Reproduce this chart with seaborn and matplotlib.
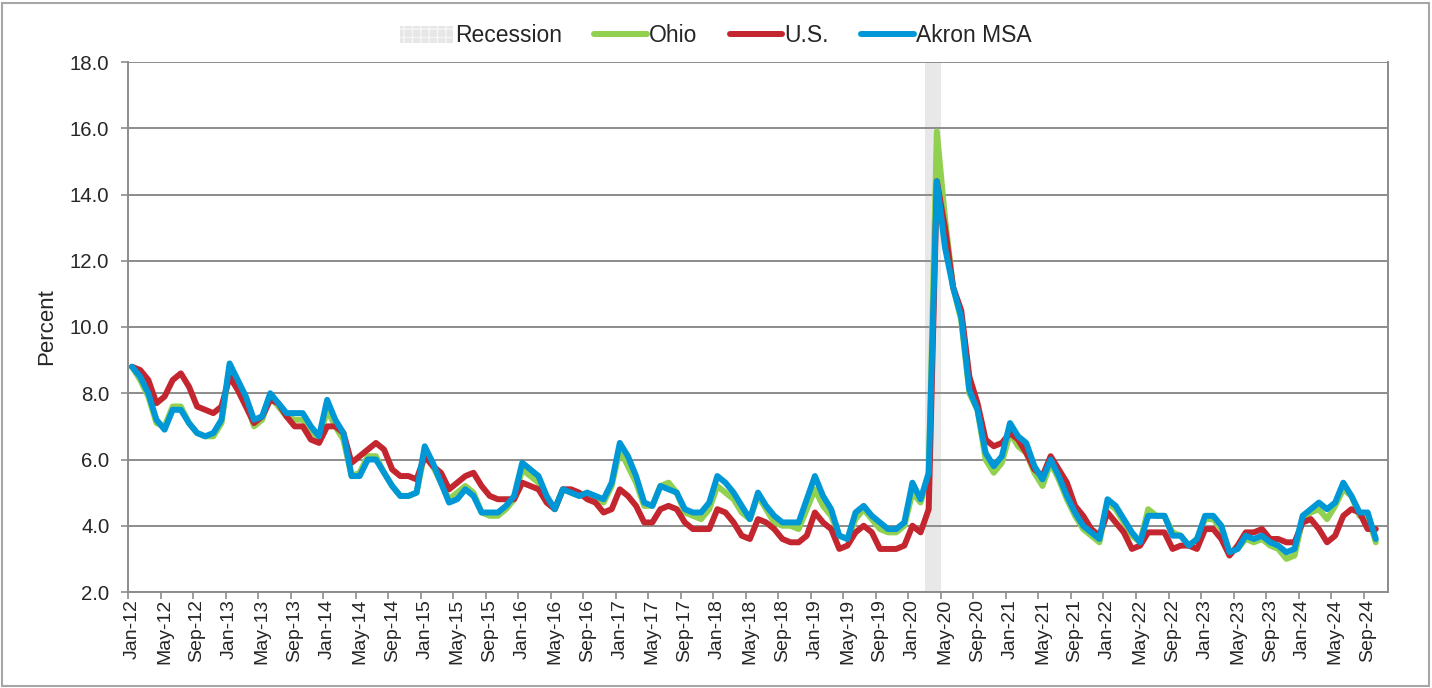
import numpy as np
import pandas as pd
import matplotlib
matplotlib.use("Agg")
import matplotlib.pyplot as plt
from matplotlib.patches import Patch, Rectangle
from matplotlib.lines import Line2D
from matplotlib.ticker import FixedLocator, FormatStrFormatter
import seaborn as sns

# ---- categories (monthly axis, Jan-12 .. Nov-24) ----
months = pd.date_range("2012-01-01", "2024-11-01", freq="MS")
month_labels = [d.strftime("%b-%y") for d in months]

# ---- series (percent, Jan-12 .. Oct-24) ----
ohio = [
    8.8, 8.4, 7.9, 7.1, 7.0, 7.6, 7.6, 7.1, 6.8, 6.7, 6.7, 7.1,
    8.8, 8.3, 7.8, 7.0, 7.2, 7.9, 7.6, 7.3, 7.2, 7.2, 6.9, 6.6,
    7.5, 7.0, 6.6, 5.5, 5.6, 6.1, 6.1, 5.6, 5.2, 4.9, 4.9, 5.0,
    6.2, 5.8, 5.3, 4.8, 5.0, 5.2, 5.0, 4.4, 4.3, 4.3, 4.5, 4.8,
    5.7, 5.5, 5.3, 4.8, 4.5, 5.1, 5.0, 4.9, 5.0, 4.8, 4.7, 5.2,
    6.3, 5.8, 5.3, 4.6, 4.6, 5.2, 5.3, 5.0, 4.4, 4.3, 4.2, 4.5,
    5.2, 5.0, 4.8, 4.4, 4.2, 4.9, 4.5, 4.1, 4.0, 4.0, 3.9, 4.5,
    5.1, 4.6, 4.3, 3.7, 3.6, 4.2, 4.5, 4.2, 3.9, 3.8, 3.8, 4.0,
    5.0, 4.7, 5.5, 15.9, 13.3, 11.2, 10.2, 8.0, 7.5, 6.0, 5.6, 5.9,
    6.8, 6.4, 6.2, 5.6, 5.2, 5.9, 5.4, 4.8, 4.3, 3.9, 3.7, 3.5,
    4.7, 4.5, 4.1, 3.7, 3.5, 4.5, 4.3, 4.3, 3.8, 3.7, 3.4, 3.6,
    4.2, 4.2, 3.9, 3.2, 3.3, 3.6, 3.5, 3.6, 3.4, 3.3, 3.0, 3.1,
    4.2, 4.4, 4.5, 4.2, 4.6, 5.1, 4.9, 4.3, 4.3, 3.5,
]
us = [
    8.8, 8.7, 8.4, 7.7, 7.9, 8.4, 8.6, 8.2, 7.6, 7.5, 7.4, 7.6,
    8.5, 8.1, 7.6, 7.1, 7.3, 7.8, 7.7, 7.3, 7.0, 7.0, 6.6, 6.5,
    7.0, 7.0, 6.8, 5.9, 6.1, 6.3, 6.5, 6.3, 5.7, 5.5, 5.5, 5.4,
    6.1, 5.8, 5.6, 5.1, 5.3, 5.5, 5.6, 5.2, 4.9, 4.8, 4.8, 4.8,
    5.3, 5.2, 5.1, 4.7, 4.5, 5.1, 5.1, 5.0, 4.8, 4.7, 4.4, 4.5,
    5.1, 4.9, 4.6, 4.1, 4.1, 4.5, 4.6, 4.5, 4.1, 3.9, 3.9, 3.9,
    4.5, 4.4, 4.1, 3.7, 3.6, 4.2, 4.1, 3.9, 3.6, 3.5, 3.5, 3.7,
    4.4, 4.1, 3.9, 3.3, 3.4, 3.8, 4.0, 3.8, 3.3, 3.3, 3.3, 3.4,
    4.0, 3.8, 4.5, 14.4, 13.0, 11.2, 10.5, 8.5, 7.7, 6.6, 6.4, 6.5,
    6.8, 6.6, 6.2, 5.7, 5.5, 6.1, 5.7, 5.3, 4.6, 4.3, 3.9, 3.7,
    4.4, 4.1, 3.8, 3.3, 3.4, 3.8, 3.8, 3.8, 3.3, 3.4, 3.4, 3.3,
    3.9, 3.9, 3.6, 3.1, 3.4, 3.8, 3.8, 3.9, 3.6, 3.6, 3.5, 3.5,
    4.1, 4.2, 3.9, 3.5, 3.7, 4.3, 4.5, 4.4, 3.9, 3.9,
]
akron = [
    8.8, 8.5, 8.0, 7.2, 6.9, 7.5, 7.5, 7.1, 6.8, 6.7, 6.8, 7.2,
    8.9, 8.4, 7.9, 7.2, 7.3, 8.0, 7.7, 7.4, 7.4, 7.4, 7.0, 6.7,
    7.8, 7.2, 6.8, 5.5, 5.5, 6.0, 6.0, 5.6, 5.2, 4.9, 4.9, 5.0,
    6.4, 5.9, 5.3, 4.7, 4.8, 5.1, 4.9, 4.4, 4.4, 4.4, 4.6, 4.9,
    5.9, 5.7, 5.5, 4.9, 4.5, 5.1, 5.0, 4.9, 5.0, 4.9, 4.8, 5.3,
    6.5, 6.1, 5.5, 4.7, 4.6, 5.2, 5.1, 5.0, 4.5, 4.4, 4.4, 4.7,
    5.5, 5.3, 5.0, 4.6, 4.2, 5.0, 4.6, 4.3, 4.1, 4.1, 4.1, 4.8,
    5.5, 4.9, 4.5, 3.7, 3.6, 4.4, 4.6, 4.3, 4.1, 3.9, 3.9, 4.1,
    5.3, 4.8, 5.6, 14.4, 12.4, 11.2, 10.3, 8.1, 7.5, 6.2, 5.8, 6.1,
    7.1, 6.7, 6.5, 5.8, 5.4, 6.0, 5.5, 4.9, 4.4, 4.0, 3.8, 3.6,
    4.8, 4.6, 4.2, 3.8, 3.5, 4.3, 4.3, 4.3, 3.7, 3.7, 3.4, 3.6,
    4.3, 4.3, 4.0, 3.2, 3.3, 3.7, 3.6, 3.7, 3.5, 3.4, 3.2, 3.3,
    4.3, 4.5, 4.7, 4.5, 4.7, 5.3, 4.9, 4.4, 4.4, 3.6,
]
series_names = ["Ohio", "U.S.", "Akron MSA"]
recession_months = ["Mar-20", "Apr-20"]
y_ticks = [2.0, 4.0, 6.0, 8.0, 10.0, 12.0, 14.0, 16.0, 18.0]

colors = {"Ohio": "#92d050", "U.S.": "#c3262f", "Akron MSA": "#0097d6"}

sns.set_theme(style="white")
plt.rcParams["font.family"] = ["Liberation Sans", "DejaVu Sans"]

W, H = 1432, 688
fig = plt.figure(figsize=(W / 100, H / 100), dpi=100)
ax = fig.add_axes([128 / W, 1 - 592 / H, 1260 / W, 530 / H])

n = len(akron)
df = pd.DataFrame({"idx": np.arange(n), "Ohio": ohio, "U.S.": us, "Akron MSA": akron})
long = df.melt(id_vars="idx", var_name="series", value_name="rate")

# recession shading
rs = month_labels.index(recession_months[0])
re_ = month_labels.index(recession_months[-1])
ax.axvspan(rs - 0.5, re_ + 0.5, color="#e8e8e8", lw=0, zorder=0.3)

sns.lineplot(data=long, x="idx", y="rate", hue="series", hue_order=series_names,
             palette=colors, lw=4.3, ax=ax, legend=False, estimator=None,
             solid_joinstyle="round", solid_capstyle="round", zorder=3)

ax.set_xlim(-0.5, len(month_labels) - 0.5)
ax.set_ylim(y_ticks[0], y_ticks[-1])

# y axis
ax.yaxis.set_major_locator(FixedLocator(y_ticks))
ax.yaxis.set_major_formatter(FormatStrFormatter("%.1f"))
ax.yaxis.grid(True, color="#8c8c8c", lw=1.4)
ax.xaxis.grid(False)
ax.set_axisbelow(True)
ax.tick_params(axis="y", which="major", length=5, width=1.2, color="#8c8c8c",
               labelsize=14.7, pad=8.5, left=True)

# x axis: labels on every 4th month, tick marks at category boundaries
lab_pos = list(range(0, len(month_labels), 4))
ax.set_xticks(lab_pos)
ax.set_xticklabels([month_labels[i] for i in lab_pos], rotation=90, fontsize=14)
ax.set_xticks(np.arange(-0.5, len(month_labels), 4), minor=True)
ax.tick_params(axis="x", which="major", length=0, pad=5)
ax.tick_params(axis="x", which="minor", length=5, width=1.2, color="#8c8c8c", bottom=True)

ax.set_xlabel("")
ax.set_ylabel("Percent", fontsize=16, labelpad=9)

for side in ["left", "bottom", "right"]:
    ax.spines[side].set_visible(True)
    ax.spines[side].set_color("#8c8c8c")
    ax.spines[side].set_linewidth(1.4)
ax.spines["top"].set_visible(False)

# legend
handles = [Patch(facecolor="#e6e6e6", edgecolor="#f6f6f6", hatch="++", lw=0)]
handles += [Line2D([0], [0], color=colors[s], lw=4.3, solid_capstyle="round") for s in series_names]
labels = ["Recession"] + series_names
fig.legend(handles, labels, loc="center", bbox_to_anchor=(716 / W, 1 - 36 / H), ncol=4,
           frameon=False, fontsize=16.5, handlelength=2.3, handletextpad=0.1,
           columnspacing=1.4)

# outer border
fig.patches.append(Rectangle((2 / W, 2 / H), 1 - 5 / W, 1 - 5 / H, transform=fig.transFigure,
                             fill=False, edgecolor="#a6a6a6", lw=1.5))

fig.savefig("out.png", dpi=100)
